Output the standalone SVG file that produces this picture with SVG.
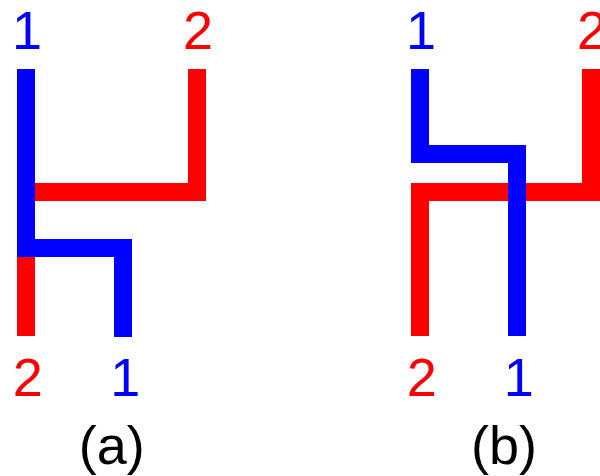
<svg xmlns="http://www.w3.org/2000/svg" width="600" height="476" viewBox="0 0 600 476">
<style>
.w{fill:none;stroke-width:18;stroke-linecap:butt;stroke-linejoin:miter}
.r{stroke:#ff0000}
.b{stroke:#0000ff}
.t{font-family:"Liberation Sans",Arial,sans-serif;font-size:54px;text-anchor:middle}
.tr{fill:#ff0000}
.tb{fill:#0000ff}
.tk{fill:#000000}
</style>
<rect width="600" height="476" fill="#ffffff"/>
<g id="connectors">
<path class="w r" d="M26,336 V192 H197 V69"/>
<path class="w b" d="M26,69 V248 H123 V337"/>
<path class="w r" d="M420,336 V192 H591 V69"/>
<path class="w b" d="M420,69 V154 H517 V336"/>
</g>
<g id="diagram-a">
<text class="t tb" x="27" y="49">1</text>
<text class="t tr" x="198" y="49">2</text>
<text class="t tr" x="27.7" y="396">2</text>
<text class="t tb" x="125.3" y="396">1</text>
<text class="t tk" x="111.7" y="464">(a)</text>
</g>
<g id="diagram-b">
<text class="t tb" x="421" y="49">1</text>
<text class="t tr" x="592" y="49">2</text>
<text class="t tr" x="421.7" y="396">2</text>
<text class="t tb" x="518.7" y="396">1</text>
<text class="t tk" x="504" y="464">(b)</text>
</g>
</svg>
